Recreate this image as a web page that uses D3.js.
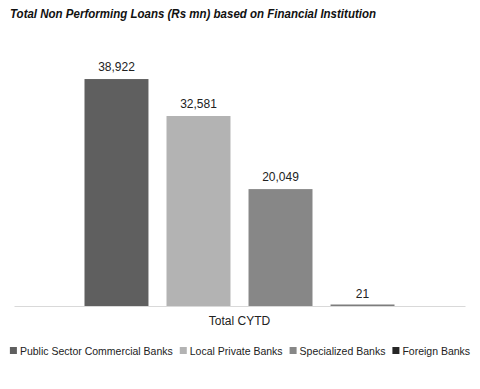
<!DOCTYPE html>
<html><head><meta charset="utf-8">
<script src="https://cdn.jsdelivr.net/npm/d3@7"></script>
<style>body{margin:0;background:#fff}svg{display:block}</style>
</head><body>
<svg id="c" width="480" height="389"></svg>
<script>
const title = "Total Non Performing Loans (Rs mn) based on Financial Institution";
const categories = ["Total CYTD"];
const seriesNames = ["Public Sector Commercial Banks","Local Private Banks","Specialized Banks","Foreign Banks"];
const seriesValues = [38922, 32581, 20049, 21];
const seriesColors = ["#5f5f5f","#b3b3b3","#878787","#262626"];
const yMax = 45000;

const svg = d3.select("#c");
const font = "'Liberation Sans', Arial, sans-serif";

// title
svg.append("text").attr("x", 10).attr("y", 18)
  .attr("font-family", font).attr("font-size", 13.5).attr("font-weight", "bold").attr("font-style","italic")
  .attr("fill", "#111").text(title)
  .attr("textLength", 366).attr("lengthAdjust","spacingAndGlyphs");

const x0 = d3.scaleBand().domain(categories).range([14, 465]).paddingInner(0).paddingOuter(0.2274);
const x1 = d3.scaleBand().domain(seriesNames).range([0, x0.bandwidth()]).paddingInner(0.22).paddingOuter(0);
const y = d3.scaleLinear().domain([0, yMax]).range([306, 43.6]);

// baseline axis
const xAxis = d3.axisBottom(x0).tickSize(0).tickPadding(10);
const ax = svg.append("g").attr("transform", "translate(0,306)").call(xAxis);
ax.select(".domain").attr("stroke", "#d9d9d9").attr("stroke-width", 1);
ax.selectAll("text").attr("font-family", font).attr("font-size", 12).attr("fill", "#222");

const g = svg.append("g");
categories.forEach(cat => {
  const data = seriesNames.map((s, i) => ({s, v: seriesValues[i], c: seriesColors[i]}));
  g.selectAll("rect.b").data(data).enter().append("rect")
    .attr("x", d => x0(cat) + x1(d.s))
    .attr("width", x1.bandwidth())
    .attr("y", d => Math.min(y(d.v), y(0) - 1.5))
    .attr("height", d => Math.max(y(0) - y(d.v), 1.5))
    .attr("fill", d => d.c)
    .attr("fill-opacity", d => (y(0) - y(d.v)) < 1.5 ? 0.6 : 1);
  g.selectAll("text.v").data(data).enter().append("text")
    .attr("x", d => x0(cat) + x1(d.s) + x1.bandwidth() / 2)
    .attr("y", d => y(d.v) - 8)
    .attr("text-anchor", "middle")
    .attr("font-family", font).attr("font-size", 12).attr("fill", "#222")
    .text(d => d3.format(",")(d.v));
});

// legend (measured, centred)
const lg = svg.append("g");
const items = seriesNames.map((s, i) => {
  const it = lg.append("g");
  it.append("rect").attr("x", 0).attr("y", -8).attr("width", 7).attr("height", 7).attr("fill", seriesColors[i]);
  const tx = it.append("text").attr("x", 10).attr("y", 0)
    .attr("font-family", font).attr("font-size", 10.5).attr("fill", "#222").text(s);
  return {it, w: 10 + tx.node().getComputedTextLength()};
});
const gap = 7;
const total = d3.sum(items, d => d.w) + gap * (items.length - 1);
let lx = 240 - total / 2;
items.forEach(d => { d.it.attr("transform", `translate(${lx},355)`); lx += d.w + gap; });
</script>
</body></html>
